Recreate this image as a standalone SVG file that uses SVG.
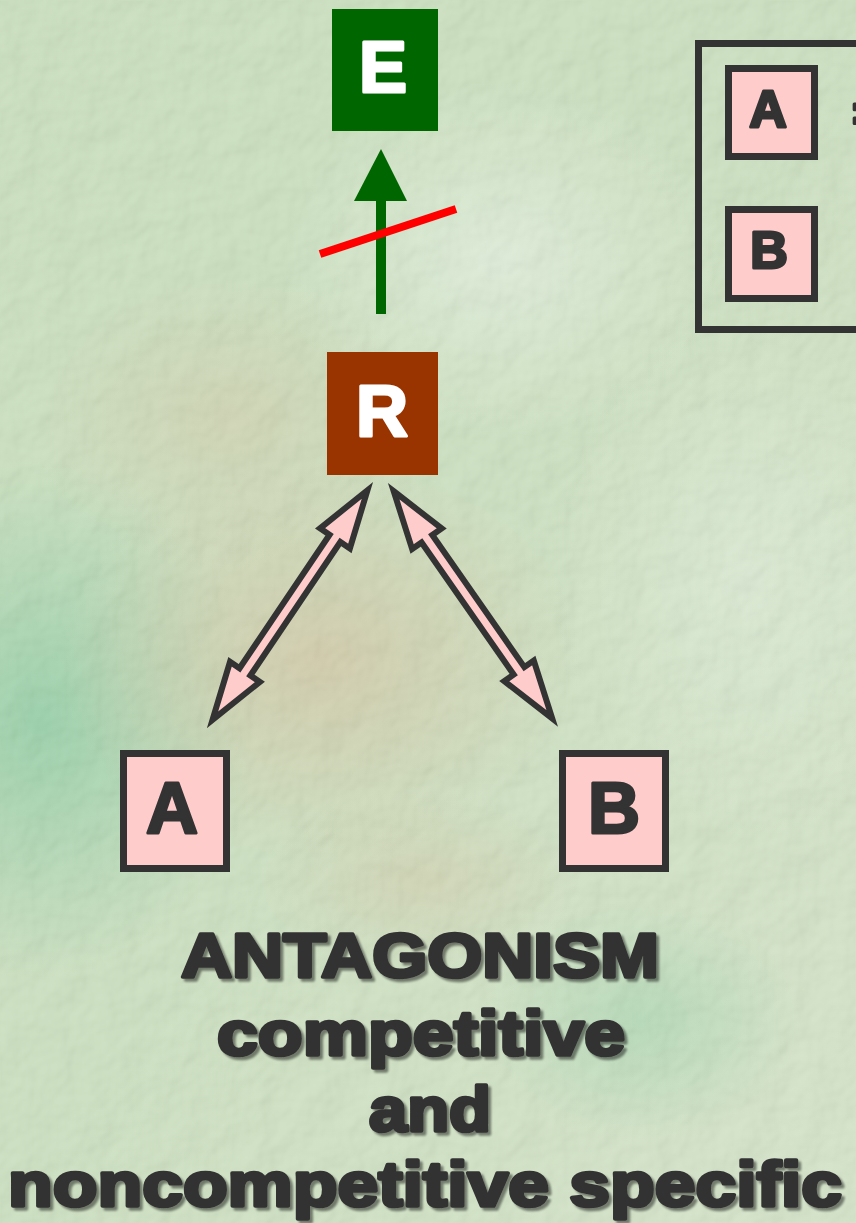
<svg xmlns="http://www.w3.org/2000/svg" width="856" height="1223" viewBox="0 0 856 1223">
  <defs>
    <style>
      .box { fill: #ffcccc; stroke: #333333; stroke-width: 7; }
      .boxtxt { font-family: "Liberation Sans", Arial, sans-serif; font-weight: bold; fill: #333333; stroke: #333333; stroke-width: 3; stroke-linejoin: round; text-anchor: middle; }
      .whitetxt { font-family: "Liberation Sans", Arial, sans-serif; font-weight: bold; fill: #ffffff; stroke: #ffffff; stroke-width: 3; stroke-linejoin: round; text-anchor: middle; font-size: 72px; }
      .title { font-family: "Liberation Sans", Arial, sans-serif; font-weight: bold; font-size: 63px; fill: #333333; stroke: #333333; stroke-width: 3.6; stroke-linejoin: round; text-anchor: middle; filter: url(#shadow); }
      .dbl { fill: #ffcccc; stroke: #333333; stroke-width: 6; stroke-linejoin: miter; stroke-miterlimit: 10; }
    </style>
    <linearGradient id="bg" x1="0" y1="0" x2="1" y2="1">
      <stop offset="0" stop-color="#c3dcb6"/>
      <stop offset="0.5" stop-color="#c6dcb8"/>
      <stop offset="1" stop-color="#cfe0c2"/>
    </linearGradient>
    <radialGradient id="teal" cx="0.5" cy="0.5" r="0.5">
      <stop offset="0" stop-color="#86c89c" stop-opacity="0.9"/>
      <stop offset="1" stop-color="#86c89c" stop-opacity="0"/>
    </radialGradient>
    <radialGradient id="tan" cx="0.5" cy="0.5" r="0.5">
      <stop offset="0" stop-color="#cdbf9a" stop-opacity="0.8"/>
      <stop offset="1" stop-color="#cdbf9a" stop-opacity="0"/>
    </radialGradient>
    <radialGradient id="pale" cx="0.5" cy="0.5" r="0.5">
      <stop offset="0" stop-color="#dcebd6" stop-opacity="0.9"/>
      <stop offset="1" stop-color="#dcebd6" stop-opacity="0"/>
    </radialGradient>
    <filter id="tex" x="0" y="0" width="100%" height="100%">
      <feTurbulence type="fractalNoise" baseFrequency="0.03" numOctaves="3" seed="7" result="n"/>
      <feDiffuseLighting in="n" surfaceScale="4" lighting-color="#ffffff" result="l">
        <feDistantLight azimuth="225" elevation="55"/>
      </feDiffuseLighting>
    </filter>
    <filter id="shadow" x="-5%" y="-10%" width="115%" height="130%">
      <feDropShadow dx="3" dy="3" stdDeviation="0.8" flood-color="#000000" flood-opacity="0.45"/>
    </filter>
  </defs>

  <!-- background -->
  <rect x="0" y="0" width="856" height="1223" fill="url(#bg)"/>
  <ellipse cx="40" cy="720" rx="220" ry="260" fill="url(#teal)"/>
  <ellipse cx="320" cy="660" rx="260" ry="200" fill="url(#tan)"/>
  <ellipse cx="230" cy="420" rx="200" ry="150" fill="url(#tan)" opacity="0.6"/>
  <ellipse cx="500" cy="260" rx="220" ry="180" fill="url(#pale)"/>
  <ellipse cx="750" cy="580" rx="200" ry="260" fill="url(#pale)" opacity="0.7"/>
  <ellipse cx="640" cy="1020" rx="160" ry="120" fill="url(#teal)" opacity="0.5"/>
  <ellipse cx="420" cy="880" rx="160" ry="90" fill="url(#tan)" opacity="0.6"/>
  <rect x="0" y="0" width="856" height="1223" filter="url(#tex)" opacity="0.18"/>

  <!-- legend -->
  <g id="legend">
    <rect x="698.5" y="43.5" width="170" height="286" fill="none" stroke="#333333" stroke-width="7"/>
    <g id="legend-A">
      <rect class="box" x="728.5" y="68.5" width="86" height="88"/>
      <text class="boxtxt" x="768" y="127" font-size="52">A</text>
    </g>
    <text class="boxtxt" x="852" y="131" font-size="52" style="text-anchor:start">=</text>
    <g id="legend-B">
      <rect class="box" x="728.5" y="209.5" width="86" height="89"/>
      <text class="boxtxt" x="769" y="268" font-size="52">B</text>
    </g>
  </g>

  <!-- nodes -->
  <g id="node-E">
    <rect x="332" y="9" width="106" height="122" fill="#006600"/>
    <text class="whitetxt" x="383" y="92">E</text>
  </g>
  <g id="node-R">
    <rect x="327" y="352" width="111" height="123" fill="#993300"/>
    <text class="whitetxt" x="382" y="436">R</text>
  </g>
  <g id="node-A">
    <rect class="box" x="123.5" y="753.5" width="103" height="115"/>
    <text class="boxtxt" x="172" y="833" font-size="72">A</text>
  </g>
  <g id="node-B">
    <rect class="box" x="562.5" y="753.5" width="103" height="115"/>
    <text class="boxtxt" x="614" y="833" font-size="72">B</text>
  </g>

  <!-- connectors -->
  <g id="connectors">
    <g id="R-to-E">
      <rect x="376" y="199" width="10" height="115" fill="#006600"/>
      <polygon points="381,149 354,201 407,201" fill="#006600"/>
      <line x1="320" y1="254" x2="456" y2="209" stroke="#ff0000" stroke-width="8"/>
    </g>
    <g id="R-A" transform="translate(373,482) rotate(124)">
      <polygon class="dbl" points="10,0 68,-18 68,-6.5 229,-6.5 229,-18 287,0 229,18 229,6.5 68,6.5 68,18"/>
    </g>
    <g id="R-B" transform="translate(388,483) rotate(55.1)">
      <polygon class="dbl" points="10,0 68,-18 68,-6.5 229,-6.5 229,-18 287,0 229,18 229,6.5 68,6.5 68,18"/>
    </g>
  </g>

  <!-- caption -->
  <g id="caption">
    <text class="title" x="420" y="977" textLength="478" lengthAdjust="spacingAndGlyphs">ANTAGONISM</text>
    <text class="title" x="421" y="1055" textLength="408" lengthAdjust="spacingAndGlyphs">competitive</text>
    <text class="title" x="430" y="1131" textLength="122" lengthAdjust="spacingAndGlyphs">and</text>
    <text class="title" x="425" y="1206" textLength="834" lengthAdjust="spacingAndGlyphs">noncompetitive specific</text>
  </g>
</svg>
